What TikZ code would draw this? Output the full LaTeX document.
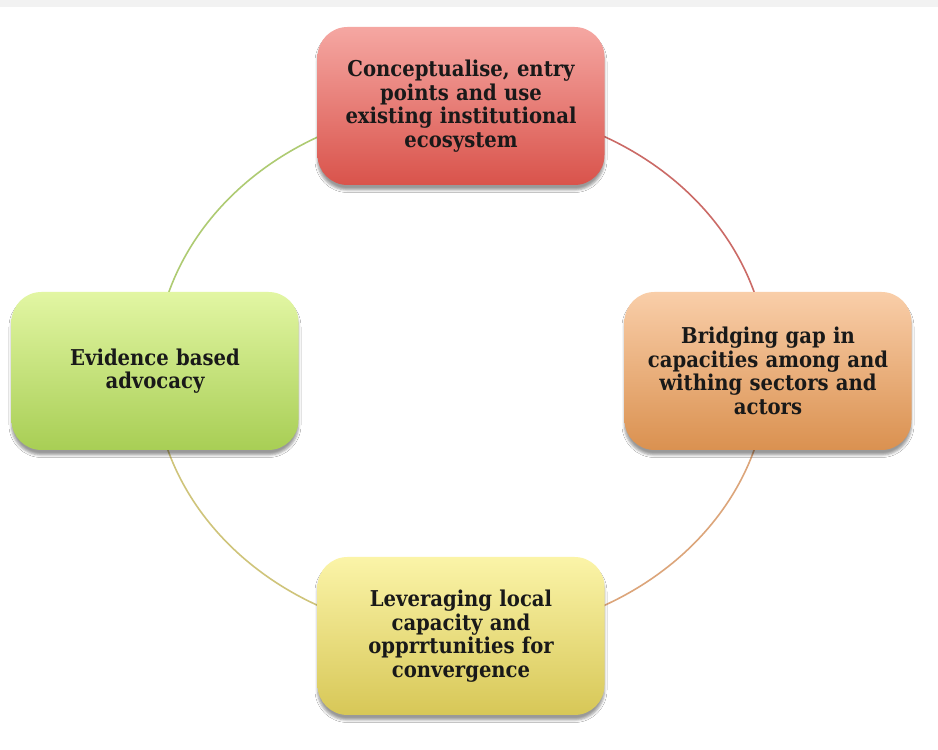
\documentclass[tikz,border=0pt]{standalone}
\usepackage{fontspec}
\setmainfont{DejaVu Serif Condensed}
\usetikzlibrary{backgrounds}
\usetikzlibrary{shadows.blur}
\definecolor{redtop}{HTML}{F5A7A2}
\definecolor{redbot}{HTML}{D9534B}
\definecolor{orgtop}{HTML}{F9CEA9}
\definecolor{orgbot}{HTML}{DA9150}
\definecolor{yeltop}{HTML}{FBF4A8}
\definecolor{yelbot}{HTML}{D7C757}
\definecolor{grntop}{HTML}{E2F6A3}
\definecolor{grnbot}{HTML}{A8CE55}
\definecolor{redarc}{HTML}{CB6A66}
\definecolor{orgarc}{HTML}{DCA57A}
\definecolor{yelarc}{HTML}{CFC47A}
\definecolor{grnarc}{HTML}{AECB72}
\tikzset{
  stage/.style={rounded corners=30pt,minimum width=287pt,minimum height=158pt,
    text width=270pt,align=center,inner sep=0pt,text=black!90,
    font=\fontsize{21.8}{23.5}\selectfont\bfseries,
    blur shadow={shadow xshift=0pt,shadow yshift=-5pt,shadow blur radius=2.5pt,shadow opacity=40}},
  ring/.style={line width=1.6pt}
}
\begin{document}
\begin{tikzpicture}[x=1pt,y=1pt]
\def\rx{307}
\def\ry{265}
\useasboundingbox (0,0) rectangle (938,750);
\node[stage,top color=redtop,bottom color=redbot] (concept) at (461,644)
  {Conceptualise, entry\\points and use\\existing institutional\\ecosystem};
\node[stage,top color=orgtop,bottom color=orgbot] (bridge) at (768,379)
  {Bridging gap in\\capacities among and\\withing sectors and\\actors};
\node[stage,top color=yeltop,bottom color=yelbot] (leverage) at (461,114)
  {Leveraging local\\capacity and\\opprrtunities for\\convergence};
\node[stage,top color=grntop,bottom color=grnbot] (evidence) at (155,379)
  {Evidence based\\advocacy\\[1.5em]};
\begin{scope}[on background layer]
\fill[white] (0,0) rectangle (938,750);
\fill[black!5] (0,743) rectangle (938,750);
\draw[ring,redarc] (concept.center) arc[start angle=90,end angle=0,x radius=\rx,y radius=\ry];
\draw[ring,orgarc] (bridge.center) arc[start angle=0,end angle=-90,x radius=\rx,y radius=\ry];
\draw[ring,yelarc] (leverage.center) arc[start angle=-90,end angle=-180,x radius=\rx,y radius=\ry];
\draw[ring,grnarc] (evidence.center) arc[start angle=180,end angle=90,x radius=\rx,y radius=\ry];
\end{scope}
\end{tikzpicture}
\end{document}
